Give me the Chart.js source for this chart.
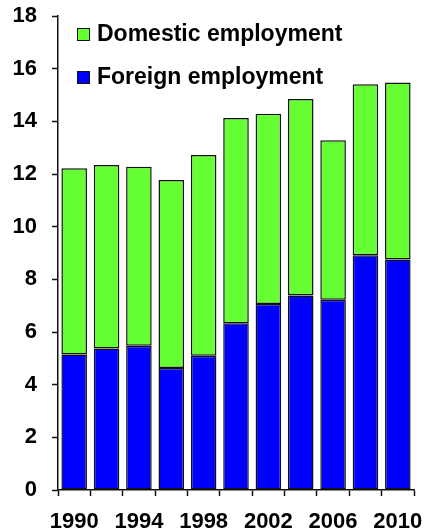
<!DOCTYPE html>
<html>
<head>
<meta charset="utf-8">
<script src="https://cdn.jsdelivr.net/npm/chart.js@4/dist/chart.umd.min.js"></script>
<style>
  html, body { margin: 0; padding: 0; background: #fff; }
  #wrap { width: 428px; height: 529px; }
</style>
</head>
<body>
<div id="wrap"><canvas id="c" width="428" height="529"></canvas></div>
<script>
// Employment by year (millions), stacked: foreign at the bottom, domestic on top
const years = ['1990','1992','1994','1996','1998','2000','2002','2004','2006','2008','2010'];
const foreignEmployment  = [5.15, 5.37, 5.48, 4.63, 5.10, 6.33, 7.06, 7.39, 7.22, 8.91, 8.75];
const domesticEmployment = [7.07, 6.97, 6.80, 7.14, 7.62, 7.80, 7.23, 7.46, 6.06, 6.50, 6.72];
const yTicks = [0, 2, 4, 6, 8, 10, 12, 14, 16, 18];

const FONT = '"Liberation Sans", Arial, Helvetica, sans-serif';

// Legend drawn inside the plot area, top-left, domestic listed first
const insideLegend = {
  id: 'insideLegend',
  afterDraw(chart) {
    const ctx = chart.ctx;
    const area = chart.chartArea;
    const items = chart.data.datasets.slice().reverse();
    ctx.save();
    ctx.font = 'bold 23px ' + FONT;
    ctx.textBaseline = 'middle';
    ctx.textAlign = 'left';
    items.forEach((ds, i) => {
      const bx = area.left + 19;
      const by = area.top + 12 + i * 43;
      ctx.fillStyle = ds.backgroundColor;
      ctx.fillRect(bx, by, 13, 13);
      ctx.lineWidth = 1;
      ctx.strokeStyle = '#111';
      ctx.strokeRect(bx + 0.5, by + 0.5, 12, 12);
      ctx.fillStyle = '#000';
      ctx.fillText(ds.label, bx + 20, by + 7);
    });
    ctx.restore();
  }
};

new Chart(document.getElementById('c'), {
  type: 'bar',
  data: {
    labels: years,
    datasets: [
      {
        label: 'Foreign employment',
        data: foreignEmployment,
        backgroundColor: '#0000FF',
        borderColor: '#111',
        borderWidth: 1.5,
        borderSkipped: false,
        barPercentage: 0.79,
        categoryPercentage: 1.0
      },
      {
        label: 'Domestic employment',
        data: domesticEmployment,
        backgroundColor: '#66FF33',
        borderColor: '#111',
        borderWidth: 1.5,
        borderSkipped: false,
        barPercentage: 0.79,
        categoryPercentage: 1.0
      }
    ]
  },
  options: {
    responsive: false,
    animation: false,
    devicePixelRatio: 1,
    layout: { padding: { top: 16, right: 14, left: 0, bottom: 0 } },
    plugins: {
      legend: { display: false },
      tooltip: { enabled: false }
    },
    scales: {
      x: {
        stacked: true,
        offset: true,
        grid: {
          offset: true,
          drawOnChartArea: false,
          drawTicks: true,
          tickLength: 6,
          tickWidth: 1.5,
          tickColor: '#111'
        },
        border: { display: true, color: '#111', width: 1.5 },
        ticks: {
          autoSkip: false,
          maxRotation: 0,
          padding: 13,
          color: '#000',
          font: { family: FONT, size: 22, weight: 'bold' },
          callback: (v, i) => (i % 2 === 0 ? years[i] : '')
        },
        afterFit(scale) {
          scale.height = 39;
          scale.paddingLeft = 0;
          scale.paddingRight = 0;
        }
      },
      y: {
        stacked: true,
        min: 0,
        max: 18,
        afterBuildTicks(scale) { scale.ticks = yTicks.map(v => ({ value: v })); },
        grid: {
          drawOnChartArea: false,
          drawTicks: true,
          tickLength: 6,
          tickWidth: 1.5,
          tickColor: '#111'
        },
        border: { display: true, color: '#111', width: 1.5 },
        ticks: {
          padding: 15,
          color: '#000',
          font: { family: FONT, size: 22, weight: 'bold' }
        },
        afterFit(scale) {
          scale.width = 58;
          scale.paddingTop = 0;
          scale.paddingBottom = 0;
        }
      }
    }
  },
  plugins: [insideLegend]
});
</script>
</body>
</html>
